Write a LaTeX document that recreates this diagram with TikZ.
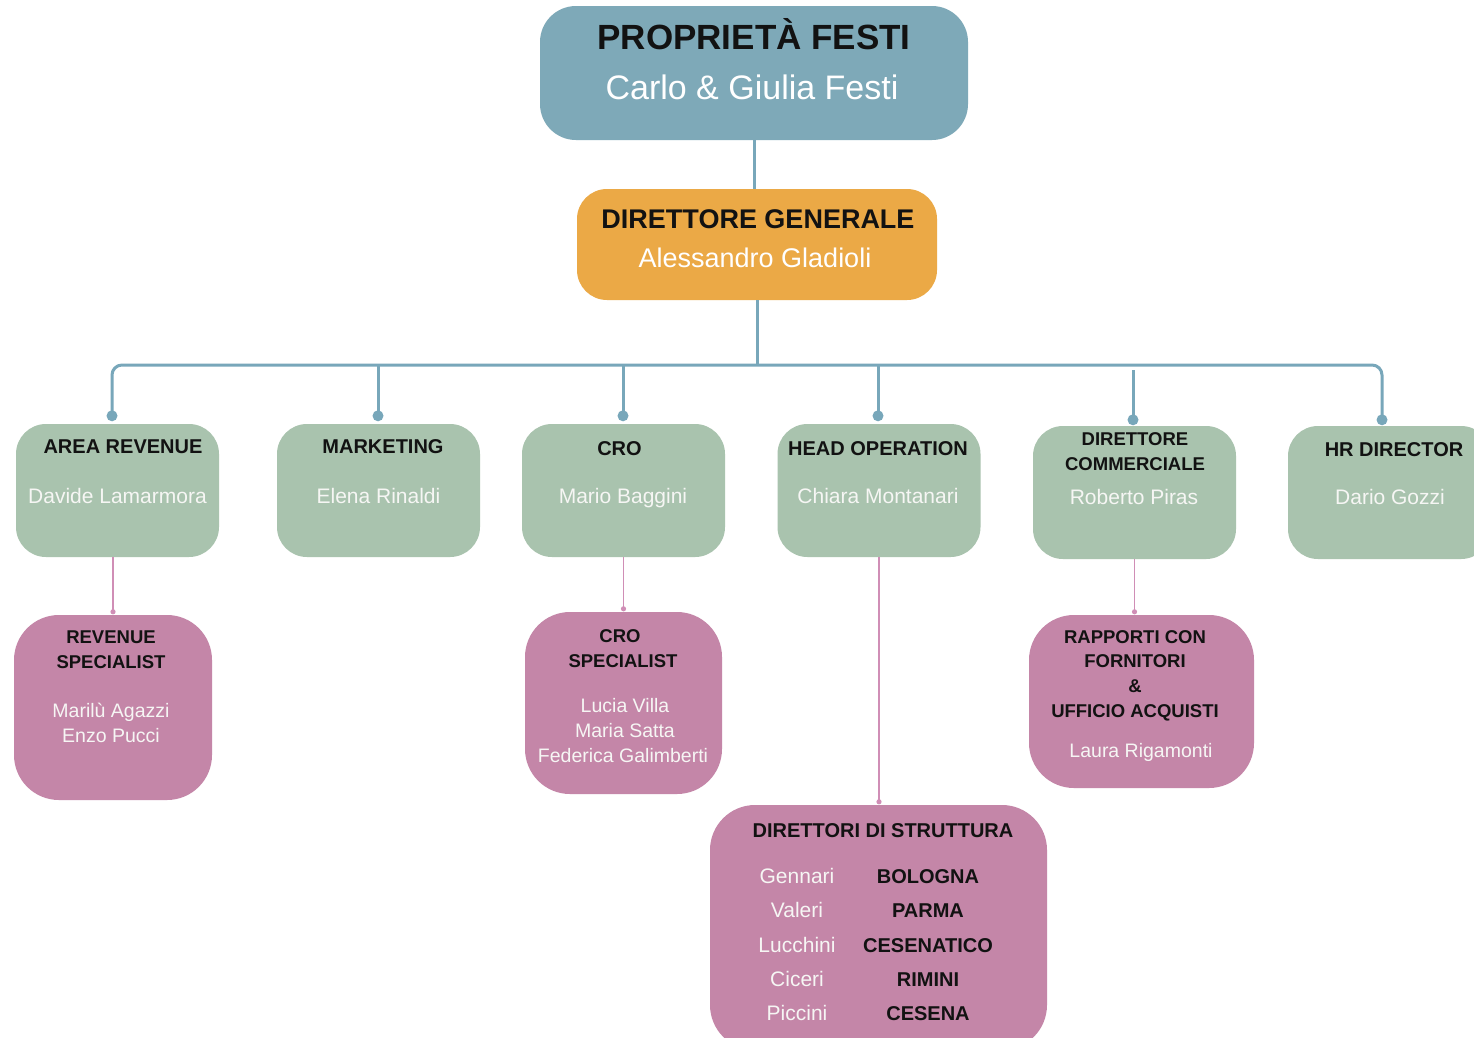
\documentclass[tikz,border=0pt]{standalone}
\usepackage{fontspec}
\setmainfont{Liberation Sans}
\usetikzlibrary{calc}
\definecolor{topblue}{RGB}{126,169,184}
\definecolor{dgorange}{RGB}{235,169,70}
\definecolor{sage}{RGB}{169,195,174}
\definecolor{mauve}{RGB}{196,134,168}
\definecolor{lineblue}{RGB}{120,167,186}
\definecolor{linepink}{RGB}{208,142,182}
\definecolor{ink}{RGB}{18,18,18}
\definecolor{paleink}{RGB}{246,246,244}
\newcommand\myfs[1]{\fontsize{#1}{#1}\selectfont}
\tikzset{
  orgbox/.style={rectangle, inner sep=0pt, draw=none, rounded corners=#1},
  topbox/.style={orgbox=36pt, fill=topblue, minimum width=428pt, minimum height=134pt},
  dgbox/.style={orgbox=30pt, fill=dgorange, minimum width=360pt, minimum height=111pt},
  greenbox/.style={orgbox=30pt, fill=sage, minimum width=203pt, minimum height=133pt},
  pinkbox/.style={orgbox=45pt, fill=mauve},
  hd/.style={anchor=base, inner sep=0pt, text=ink, font=\myfs{#1}\bfseries},
  nm/.style={anchor=base, inner sep=0pt, text=paleink, font=\myfs{#1}},
  bluelink/.style={draw=lineblue, line width=3pt},
  pinklink/.style={draw=linepink, line width=1.6pt},
}
\begin{document}
\begin{tikzpicture}[x=1pt,y=-1pt]
\clip (0,0) rectangle (1474,1037);
\fill[white] (0,0) rectangle (1474,1037);

% boxes
\node[topbox] (top) at (754,73) {};
\node[dgbox] (dg) at (757,244.5) {};
\node[greenbox] (g1) at (117.5,490.5) {};
\node[greenbox] (g2) at (378.5,490.5) {};
\node[greenbox] (g3) at (623.5,490.5) {};
\node[greenbox] (g4) at (879,490.5) {};
\node[greenbox] (g5) at (1134.5,492.5) {};
\node[greenbox] (g6) at (1389.5,492.5) {};
\node[pinkbox, minimum width=198pt, minimum height=185pt] (p1) at (113,707.5) {};
\node[pinkbox, minimum width=197pt, minimum height=182pt] (p2) at (623.5,703) {};
\node[pinkbox, minimum width=225pt, minimum height=173pt] (p3) at (1141.5,701.5) {};
\node[pinkbox, minimum width=337pt, minimum height=245pt] (p4) at (878.5,927.5) {};

% attachment points of the blue connectors (dots)
\coordinate (d1) at ($(g1.north)+(-5.5,-8)$);
\coordinate (d2) at ($(g2.north)+(-0.5,-8)$);
\coordinate (d3) at ($(g3.north)+(-0.5,-8)$);
\coordinate (d4) at ($(g4.north)+(-1,-8)$);
\coordinate (d5) at ($(g5.north)+(-1.5,-6)$);
\coordinate (d6) at ($(g6.north)+(-7.5,-6)$);
\coordinate (bus) at (0,365);

% blue connectors
\draw[bluelink] (top.south) -- (top.south |- dg.north);
\draw[bluelink] (dg.south) -- (dg.south |- bus);
\draw[bluelink, rounded corners=10pt] (d1) -- (d1 |- bus) -- (d6 |- bus) -- (d6);
\foreach \d in {d2,d3,d4}
  \draw[bluelink] (\d |- bus) -- (\d);
\draw[bluelink] ($(d5 |- bus)+(0,5)$) -- (d5);
\foreach \d in {d1,d2,d3,d4,d5,d6}
  \fill[lineblue] (\d) circle (5.5pt);

% pink connectors
\draw[pinklink] (p1.north |- g1.south) -- ($(p1.north)+(0,-3)$);
\fill[linepink] ($(p1.north)+(0,-3)$) circle (2.6pt);
\draw[pinklink] (g3.south) -- ($(g3.south |- p2.north)+(0,-3)$);
\fill[linepink] ($(g3.south |- p2.north)+(0,-3)$) circle (2.6pt);
\draw[pinklink] (g4.south) -- ($(g4.south |- p4.north)+(0,-3)$);
\fill[linepink] ($(g4.south |- p4.north)+(0,-3)$) circle (2.6pt);
\draw[pinklink] (g5.south) -- ($(g5.south |- p3.north)+(0,-3)$);
\fill[linepink] ($(g5.south |- p3.north)+(0,-3)$) circle (2.6pt);

% texts: top
\node[hd=35] (ttop) at (754,49) {PROPRIETÀ FESTI};
\node[nm=34, text=white] (ntop) at (752,99) {Carlo \& Giulia Festi};
\node[hd=27] (tdg) at (758,228) {DIRETTORE GENERALE};
\node[nm=27, text=white] (ndg) at (755,267) {Alessandro Gladioli};

% green
\node[hd=20] (tg1) at (123,453) {AREA REVENUE};
\node[nm=21] (ng1) at (117.5,503) {Davide Lamarmora};
\node[hd=20] (tg2) at (383,453) {MARKETING};
\node[nm=21] (ng2) at (378.5,503) {Elena Rinaldi};
\node[hd=20] (tg3) at (619.5,455) {CRO};
\node[nm=21] (ng3) at (623,503) {Mario Baggini};
\node[hd=20] (tg4) at (878,455) {HEAD OPERATION};
\node[nm=21] (ng4) at (878,503) {Chiara Montanari};
\node[hd=18.5] (tg5a) at (1135,445) {DIRETTORE};
\node[hd=18.5] (tg5b) at (1135,470) {COMMERCIALE};
\node[nm=21] (ng5) at (1134,504) {Roberto Piras};
\node[hd=20] (tg6) at (1394,456) {HR DIRECTOR};
\node[nm=21] (ng6) at (1390,504) {Dario Gozzi};

% pink 1
\node[hd=18.5] (tp1a) at (111,643) {REVENUE};
\node[hd=18.5] (tp1b) at (111,668) {SPECIALIST};
\node[nm=19.5] (np1a) at (111,717) {Marilù Agazzi};
\node[nm=19.5] (np1b) at (111,742) {Enzo Pucci};
% pink 2
\node[hd=18.5] (tp2a) at (620,642) {CRO};
\node[hd=18.5] (tp2b) at (623,667) {SPECIALIST};
\node[nm=19.5] (np2a) at (625,712) {Lucia Villa};
\node[nm=19.5] (np2b) at (625,737) {Maria Satta};
\node[nm=19.5] (np2c) at (623,762) {Federica Galimberti};
% pink 3
\node[hd=18.5] (tp3a) at (1135,643) {RAPPORTI CON};
\node[hd=18.5] (tp3b) at (1135,667) {FORNITORI};
\node[hd=18.5] (tp3c) at (1135,692) {\&};
\node[hd=18.5] (tp3d) at (1135,717) {UFFICIO ACQUISTI};
\node[nm=19.5] (np3) at (1141,757) {Laura Rigamonti};
% pink 4
\node[hd=20] (tp4) at (883,837) {DIRETTORI DI STRUTTURA};
\node[nm=21] (n41) at (797,883) {Gennari};
\node[hd=20] (c41) at (928,883) {BOLOGNA};
\node[nm=21] (n42) at (797,917) {Valeri};
\node[hd=20] (c42) at (928,917) {PARMA};
\node[nm=21] (n43) at (797,952) {Lucchini};
\node[hd=20] (c43) at (928,952) {CESENATICO};
\node[nm=21] (n44) at (797,986) {Ciceri};
\node[hd=20] (c44) at (928,986) {RIMINI};
\node[nm=21] (n45) at (797,1020) {Piccini};
\node[hd=20] (c45) at (928,1020) {CESENA};
\end{tikzpicture}
\end{document}
